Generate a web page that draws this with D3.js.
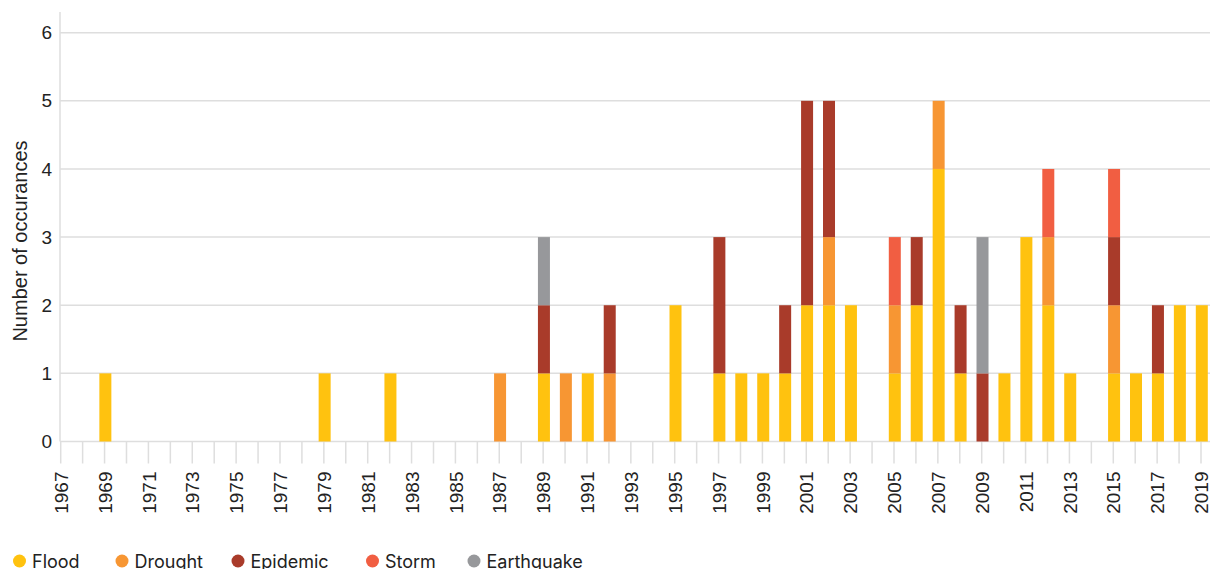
<!DOCTYPE html>
<html><head><meta charset="utf-8">
<script src="https://cdn.jsdelivr.net/npm/d3@7"></script>
<style>body{margin:0;background:#fff;}svg{display:block;}</style>
</head><body>
<script>
const years = d3.range(1967, 2020);
const flood =      [0,0,1,0,0,0,0,0,0,0, 0,0,1,0,0,1,0,0,0,0, 0,0,1,0,1,0,0,0,2,0, 1,1,1,1,2,2,2,0,1,2, 4,1,0,1,3,2,1,0,1,1, 1,2,2];
const drought =    [0,0,0,0,0,0,0,0,0,0, 0,0,0,0,0,0,0,0,0,0, 1,0,0,1,0,1,0,0,0,0, 0,0,0,0,0,1,0,0,1,0, 1,0,0,0,0,1,0,0,1,0, 0,0,0];
const epidemic =   [0,0,0,0,0,0,0,0,0,0, 0,0,0,0,0,0,0,0,0,0, 0,0,1,0,0,1,0,0,0,0, 2,0,0,1,3,2,0,0,0,1, 0,1,1,0,0,0,0,0,1,0, 1,0,0];
const storm =      [0,0,0,0,0,0,0,0,0,0, 0,0,0,0,0,0,0,0,0,0, 0,0,0,0,0,0,0,0,0,0, 0,0,0,0,0,0,0,0,1,0, 0,0,0,0,0,1,0,0,1,0, 0,0,0];
const earthquake = [0,0,0,0,0,0,0,0,0,0, 0,0,0,0,0,0,0,0,0,0, 0,0,1,0,0,0,0,0,0,0, 0,0,0,0,0,0,0,0,0,0, 0,0,2,0,0,0,0,0,0,0, 0,0,0];
const seriesNames = ["Flood", "Drought", "Epidemic", "Storm", "Earthquake"];
const seriesColors = ["#FFC20F", "#F79633", "#A93B2A", "#F15E42", "#97989B"];
const yTicks = [0, 1, 2, 3, 4, 5, 6];
const yLabel = "Number of occurances";

const W = 1210, H = 569;
const svg = d3.select("body").append("svg").attr("width", W).attr("height", H);

const x = d3.scalePoint().domain(years).range([60.7, 1201]);
const y = d3.scaleLinear().domain([0, 6]).range([441.5, 32.7]);

const rows = years.map((yr, i) => ({year: yr, Flood: flood[i], Drought: drought[i], Epidemic: epidemic[i], Storm: storm[i], Earthquake: earthquake[i]}));
const stacked = d3.stack().keys(seriesNames)(rows);
const color = d3.scaleOrdinal().domain(seriesNames).range(seriesColors);

// gridlines
const grid = svg.append("g");
grid.selectAll("line").data(yTicks).join("line")
  .attr("x1", 60).attr("x2", W)
  .attr("y1", d => y(d)).attr("y2", d => y(d))
  .attr("stroke", "#dedede").attr("stroke-width", 1.5);

// y axis line
svg.append("line").attr("x1", 60).attr("x2", 60).attr("y1", 12).attr("y2", y(0))
  .attr("stroke", "#dedede").attr("stroke-width", 1.5);

// y tick labels
svg.append("g").selectAll("text").data(yTicks).join("text")
  .attr("x", 52).attr("y", d => y(d)).attr("dy", "0.35em")
  .attr("text-anchor", "end")
  .attr("font-family", "Liberation Sans, Arial, sans-serif").attr("font-size", 19)
  .attr("fill", "#222").text(d => d);

// y label
svg.append("text")
  .attr("transform", "translate(20,241) rotate(-90)")
  .attr("text-anchor", "middle").attr("dy", "0.35em")
  .attr("font-family", "Liberation Sans, Arial, sans-serif").attr("font-size", 20)
  .attr("fill", "#222").text(yLabel);

// x axis
const xAxis = d3.axisBottom(x)
  .tickValues(years.filter(yr => yr % 2 === 1))
  .tickSize(22).tickPadding(8);
const gx = svg.append("g").attr("transform", `translate(0,${y(0)})`).call(xAxis);
gx.select(".domain").remove();
gx.selectAll(".tick line").remove();
gx.selectAll(".tick text")
  .attr("font-family", "Liberation Sans, Arial, sans-serif").attr("font-size", 19)
  .attr("fill", "#222")
  .attr("transform", "rotate(-90)")
  .attr("text-anchor", "end")
  .attr("x", -30).attr("y", 0).attr("dy", "0.35em");
// all yearly tick marks
svg.append("g").selectAll("line").data(years).join("line")
  .attr("x1", d => x(d)).attr("x2", d => x(d))
  .attr("y1", y(0)).attr("y2", y(0) + 22)
  .attr("stroke", "#dedede").attr("stroke-width", 1.5);

// bars
const bw = 12;
svg.append("g").selectAll("g").data(stacked).join("g")
  .attr("fill", d => color(d.key))
  .selectAll("rect").data(d => d.filter(s => s[1] - s[0] > 0)).join("rect")
  .attr("x", d => x(d.data.year) - bw / 2 + 0.8)
  .attr("width", bw)
  .attr("y", d => y(d[1]))
  .attr("height", d => y(d[0]) - y(d[1]));

// legend
const legendX = [19.5, 122, 238, 372.5, 474];
const lg = svg.append("g").selectAll("g").data(seriesNames).join("g")
  .attr("transform", (d, i) => `translate(${legendX[i]},561)`);
lg.append("circle").attr("r", 6.5).attr("fill", d => color(d));
lg.append("text").attr("x", 12.5).attr("y", 6.5)
  .attr("font-family", "Inter, sans-serif").attr("font-size", 18)
  .attr("fill", "#222").text(d => d);
</script>
</body></html>
